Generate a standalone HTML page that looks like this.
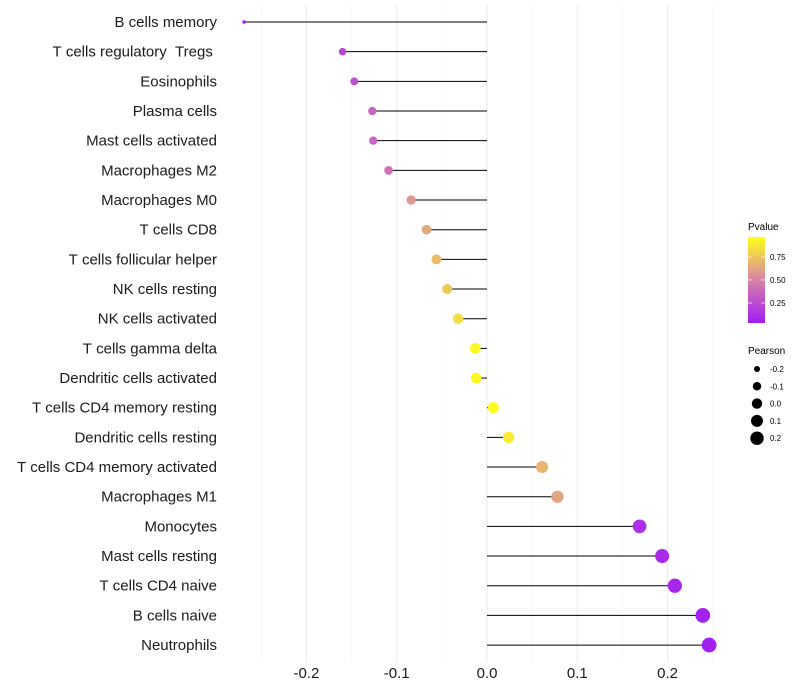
<!DOCTYPE html>
<html><head><meta charset="utf-8"><style>
body{margin:0;background:#fff;font-family:"Liberation Sans",sans-serif}
svg{display:block}
</style></head><body>
<svg id="c" width="800" height="700">
<defs><linearGradient id="pg" x1="0" y1="1" x2="0" y2="0">
<stop offset="0" stop-color="#A11CF5"/><stop offset="0.5" stop-color="#D882A8"/><stop offset="1" stop-color="#FFFF1A"/></linearGradient></defs>
<g id="grid"></g><g id="marks"></g><g id="ylab"></g><g id="xlab"></g>
<g>
<text x="748" y="230" font-size="10" fill="#000">Pvalue</text>
<rect x="748" y="237" width="17" height="86" fill="url(#pg)"/>
<g stroke="#fff" stroke-width="1" opacity="0.7"><line x1="748" y1="257" x2="752" y2="257"/><line x1="761" y1="257" x2="765" y2="257"/><line x1="748" y1="280" x2="752" y2="280"/><line x1="761" y1="280" x2="765" y2="280"/><line x1="748" y1="303" x2="752" y2="303"/><line x1="761" y1="303" x2="765" y2="303"/></g>
<text x="770" y="260" font-size="8">0.75</text><text x="770" y="283" font-size="8">0.50</text><text x="770" y="306" font-size="8">0.25</text>
</g>
<g id="sizeleg"><text x="748" y="354" font-size="10">Pearson</text></g>
</svg>
<script>
const cells=["B cells memory","T cells regulatory  Tregs ","Eosinophils","Plasma cells","Mast cells activated","Macrophages M2","Macrophages M0","T cells CD8","T cells follicular helper","NK cells resting","NK cells activated","T cells gamma delta","Dendritic cells activated","T cells CD4 memory resting","Dendritic cells resting","T cells CD4 memory activated","Macrophages M1","Monocytes","Mast cells resting","T cells CD4 naive","B cells naive","Neutrophils"];
const pearson=[-0.269,-0.160,-0.147,-0.127,-0.126,-0.109,-0.084,-0.067,-0.056,-0.044,-0.032,-0.013,-0.012,0.007,0.024,0.061,0.078,0.169,0.194,0.208,0.239,0.246];
const pvalue=[0.0,0.2,0.25,0.35,0.36,0.42,0.58,0.66,0.73,0.79,0.86,0.97,0.97,0.98,0.92,0.7,0.63,0.1,0.07,0.05,0.03,0.02];
const xTicks=[-0.2,-0.1,0.0,0.1,0.2];
const sizeLegend=[-0.2,-0.1,0.0,0.1,0.2];
const NS="http://www.w3.org/2000/svg";
const X=v=>487+v*903, Y=i=>22+i*29.67;
const R=v=>Math.sqrt(Math.max(1.5,30+100*v));
function mk(p,t,a){const e=document.createElementNS(NS,t);for(const k in a)e.setAttribute(k,a[k]);p.appendChild(e);return e;}
function lerp(a,b,t){return a.map((x,i)=>Math.round(x+(b[i]-x)*t));}
function col(p){const s=[[161,28,245],[216,130,168],[255,255,26]];const c=p<0.5?lerp(s[0],s[1],p*2):lerp(s[1],s[2],(p-0.5)*2);return `rgb(${c})`;}
const g=document.getElementById('grid');
for(let v=-0.25;v<=0.251;v+=0.05){const major=Math.abs(Math.round(v*20))%2===0;const l=mk(g,'line',{x1:X(v),x2:X(v),y1:5,y2:662,stroke:major?'#ebebeb':'#f3f3f3','stroke-width':major?1.1:0.6});

}
const m=document.getElementById('marks'),yl=document.getElementById('ylab'),xl=document.getElementById('xlab');
cells.forEach((c,i)=>{
const l=mk(m,'line',{x1:X(0),x2:X(pearson[i]),y1:Y(i),y2:Y(i),stroke:'#000','stroke-width':1});


const d=mk(m,'circle',{cx:X(pearson[i]),cy:Y(i),r:R(pearson[i]),fill:col(pvalue[i])});


const t=mk(yl,'text',{x:217,y:Y(i)+5,'text-anchor':'end','font-size':15,fill:'#1a1a1a'});t.textContent=c.replace(/ /g,'\u00a0');


});
xTicks.forEach(v=>{const t=mk(xl,'text',{x:X(v),y:678,'text-anchor':'middle','font-size':15,fill:'#1a1a1a'});t.textContent=v.toFixed(1);

});
const sl=document.getElementById('sizeleg');
sizeLegend.forEach((v,i)=>{const y=369+i*17.3;
const d=mk(sl,'circle',{cx:757,cy:y,r:R(v)*0.95,fill:'#000'});


const t=mk(sl,'text',{x:770,y:y+3,'font-size':8});t.textContent=v.toFixed(1);

});
</script>
</body></html>
